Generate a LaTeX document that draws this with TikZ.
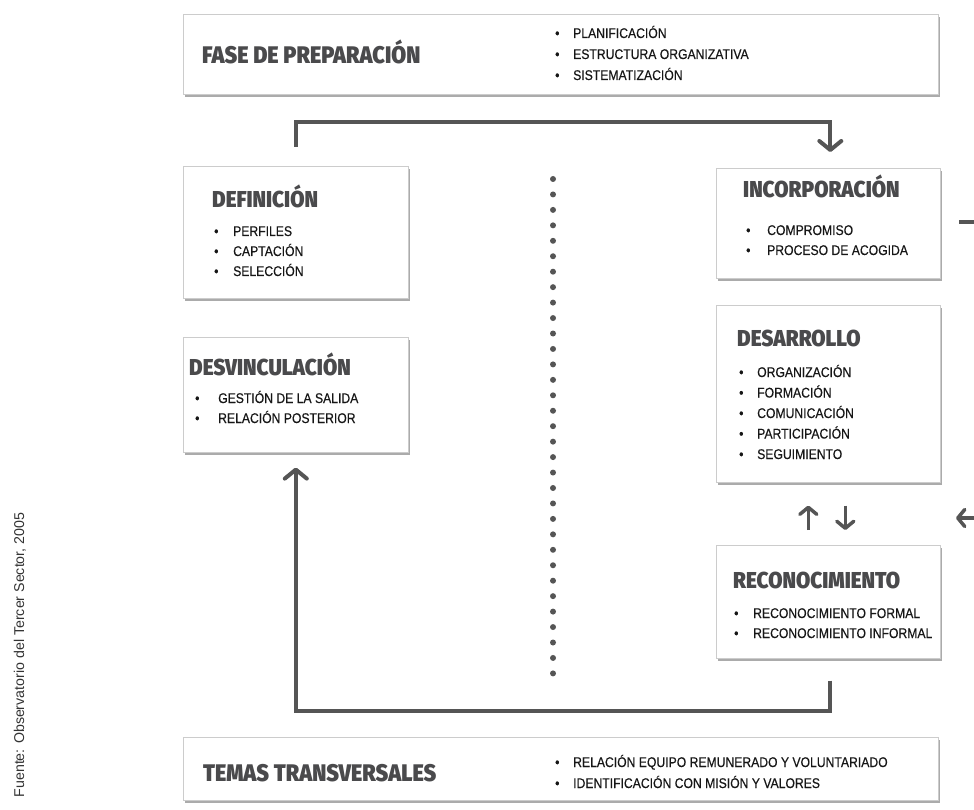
\documentclass[tikz,border=0pt]{standalone}
\usepackage{fontspec}
\setmainfont{Liberation Sans}
\newfontfamily\titlefont{Fira Sans}[UprightFont=* Black, FakeStretch=0.9]
\newfontfamily\itemfont{Liberation Sans}[FakeStretch=0.87, FakeBold=0.35]
\usetikzlibrary{arrows.meta,shadows,calc}
\definecolor{lin}{HTML}{555555}
\definecolor{ttl}{HTML}{4A4A4C}
\definecolor{txt}{HTML}{161616}
\tikzset{
  box/.style={draw=gray!40, line width=0.6pt, fill=white, anchor=north west, inner sep=0pt,
    drop shadow={shadow xshift=1.8pt, shadow yshift=-2.5pt, fill=black!60, opacity=0.55}},
  ttlnode/.style={font=\titlefont\fontsize{23}{23}\selectfont, text=ttl, anchor=base west, inner sep=0pt},
  bigttl/.style={ttlnode, font=\titlefont\fontsize{24}{24}\selectfont},
  itemnode/.style={font=\itemfont\fontsize{14}{16}\selectfont, text=txt, anchor=base west, inner sep=0pt},
  conn/.style={draw=lin, line width=4pt},
  tip/.style={-{Straight Barb[length=9pt,width=22pt,line cap=round,line join=round]}},
  smalltip/.style={line width=3.5pt,-{Straight Barb[length=7pt,width=17pt,line cap=round,line join=round]}},
  dotc/.style={fill=lin}
}
\newcommand{\bul}[1]{\makebox[#1][l]{\textbullet}}
\begin{document}
\begin{tikzpicture}[x=1pt,y=-1pt]
\useasboundingbox (0,0) rectangle (974,810);
\fill[white] (0,0) rectangle (974,810);
% boxes
\node[box, minimum width=755pt, minimum height=80pt] (prep) at (183,14) {};
\node[box, minimum width=225pt, minimum height=132pt] (def) at (183,166) {};
\node[box, minimum width=225pt, minimum height=115pt] (desv) at (183,337) {};
\node[box, minimum width=224pt, minimum height=110pt] (inc) at (716,168) {};
\node[box, minimum width=224pt, minimum height=177pt] (des) at (716,305) {};
\node[box, minimum width=224pt, minimum height=113pt] (rec) at (716,545) {};
\node[box, minimum width=755pt, minimum height=63pt] (tem) at (183,737) {};
% titles
\node[bigttl] (tprep) at (202,64) {FASE DE PREPARACIÓN};
\node[ttlnode] (tdef) at (212,208) {DEFINICIÓN};
\node[ttlnode] (tdesv) at (189,375) {DESVINCULACIÓN};
\node[ttlnode] (tinc) at (743,198) {INCORPORACIÓN};
\node[ttlnode] (tdes) at (737,346) {DESARROLLO};
\node[ttlnode] (trec) at (733,588) {RECONOCIMIENTO};
\node[bigttl] (ttem) at (203,781) {TEMAS TRANSVERSALES};
% items
\foreach \t [count=\i from 0] in {PLANIFICACIÓN, ESTRUCTURA ORGANIZATIVA, SISTEMATIZACIÓN}
  \node[itemnode] (ip\i) at (555,{38+21*\i}) {\bul{18pt}\t};
\foreach \t [count=\i from 0] in {PERFILES, CAPTACIÓN, SELECCIÓN}
  \node[itemnode] (idf\i) at (214,{236+20*\i}) {\bul{19pt}\t};
\foreach \t [count=\i from 0] in {GESTIÓN DE LA SALIDA, RELACIÓN POSTERIOR}
  \node[itemnode] (idv\i) at (195,{403+20*\i}) {\bul{23pt}\t};
\foreach \t [count=\i from 0] in {COMPROMISO, PROCESO DE ACOGIDA}
  \node[itemnode] (iin\i) at (746,{235+20*\i}) {\bul{21pt}\t};
\foreach \t [count=\i from 0] in {ORGANIZACIÓN, FORMACIÓN, COMUNICACIÓN, PARTICIPACIÓN, SEGUIMIENTO}
  \node[itemnode] (ids\i) at (739,{377+20.5*\i}) {\bul{18pt}\t};
\foreach \t [count=\i from 0] in {RECONOCIMIENTO FORMAL, RECONOCIMIENTO INFORMAL}
  \node[itemnode] (irc\i) at (734,{618+20*\i}) {\bul{19pt}\t};
\foreach \t [count=\i from 0] in {RELACIÓN EQUIPO REMUNERADO Y VOLUNTARIADO, IDENTIFICACIÓN CON MISIÓN Y VALORES}
  \node[itemnode] (itm\i) at (555,{767+21*\i}) {\bul{18pt}\t};
% dotted separator
\foreach \i in {0,...,32}
  \fill[dotc] (553,{179+15.45*\i}) circle (3pt);
% connectors
\draw[conn,tip] ([yshift=19pt]def.north) -- ++(0,-25) -| ([xshift=2pt,yshift=16pt]inc.north);
\draw[conn,tip] ([xshift=2pt,yshift=-22pt]rec.south) -- ++(0,30) -| ([yshift=-15pt]desv.south);
\draw[conn,smalltip] ([xshift=-20pt,yshift=15pt]rec.north) -- ([xshift=-20pt,yshift=-23pt]des.south);
\draw[conn,smalltip] ([xshift=17pt,yshift=-23pt]des.south) -- ([xshift=17pt,yshift=15pt]rec.north);
% partial connector at right edge
\coordinate (rtop) at (974,222);
\coordinate (rbot) at (974,518);
\draw[conn] (rtop) -- ++(-15,0);
\draw[conn,smalltip] (rbot) -- ++(-18,0);
% source
\node[font=\fontsize{14.2}{15}\selectfont, text=black!80, rotate=90, inner sep=0pt] (src) at (20,655) {Fuente: Observatorio del Tercer Sector, 2005};
\end{tikzpicture}
\end{document}
